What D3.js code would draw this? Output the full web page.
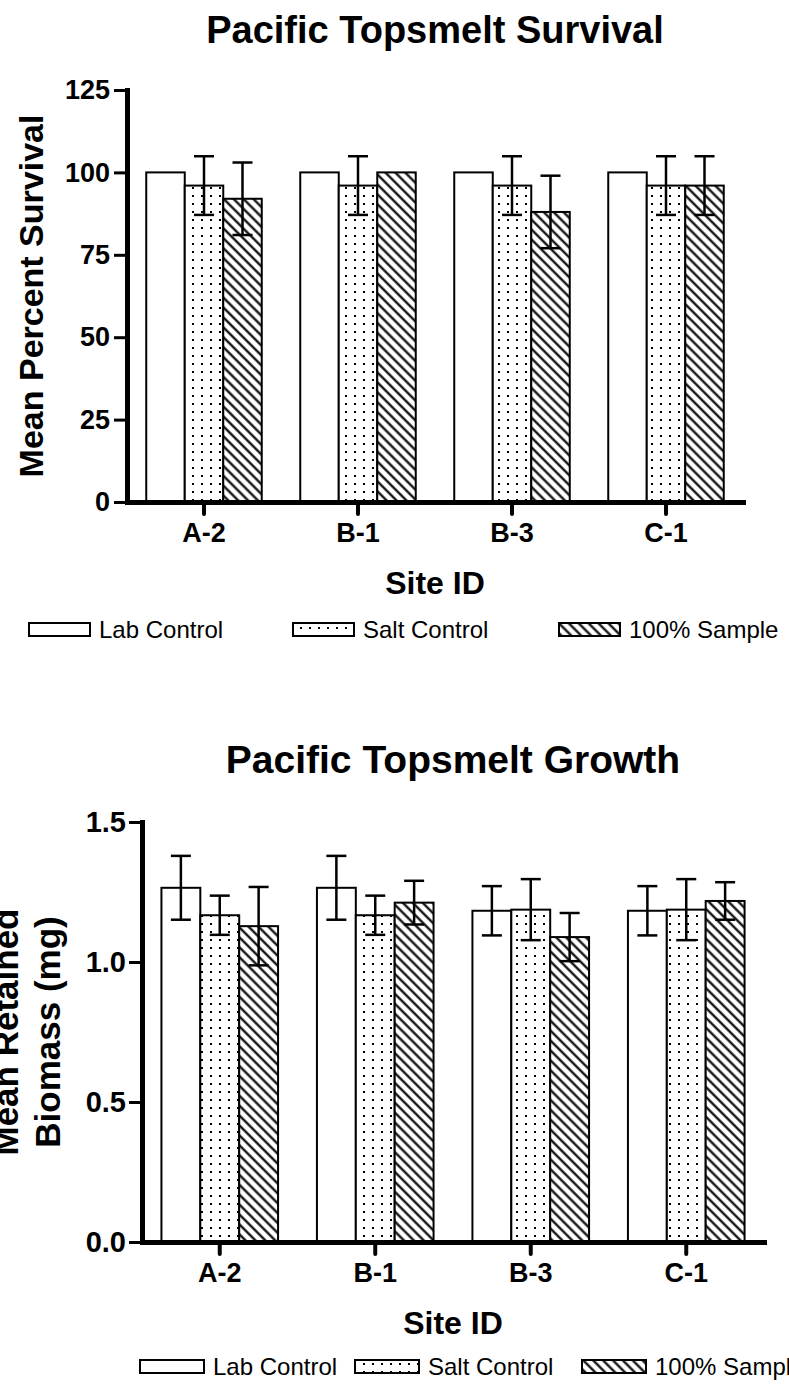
<!DOCTYPE html>
<html>
<head>
<meta charset="utf-8">
<script src="https://cdn.jsdelivr.net/npm/d3@7"></script>
<style>
  body { margin: 0; background: #fff; }
  svg { display: block; font-family: "Liberation Sans", Arial, Helvetica, sans-serif; }
</style>
</head>
<body>
<div id="chart"></div>
<script>
// data
const sites = ["A-2", "B-1", "B-3", "C-1"];
const groups = ["Lab Control", "Salt Control", "100% Sample"];

const survivalLab = [100, 100, 100, 100];
const survivalSalt = [96, 96, 96, 96];
const survivalSample = [92, 100, 88, 96];
const survivalLabErr = [0, 0, 0, 0];
const survivalSaltErr = [8.9, 8.9, 8.9, 8.9];
const survivalSampleErr = [11, 0, 11, 8.9];
const survivalTicks = [0, 25, 50, 75, 100, 125];

const growthLab = [1.265, 1.265, 1.183, 1.183];
const growthSalt = [1.167, 1.167, 1.187, 1.187];
const growthSample = [1.128, 1.212, 1.089, 1.218];
const growthLabErr = [0.114, 0.114, 0.088, 0.088];
const growthSaltErr = [0.07, 0.07, 0.109, 0.109];
const growthSampleErr = [0.14, 0.078, 0.086, 0.067];
const growthTicks = [0, 0.5, 1.0, 1.5];

let svg = d3.select("#chart")
	.append("svg")
	.attr("width", 789)
	.attr("height", 1387);

// fill patterns
let defs = svg.append("defs");
let dots = defs.append("pattern")
	.attr("id", "dots")
	.attr("patternUnits", "userSpaceOnUse")
	.attr("width", 9).attr("height", 8);
dots.append("rect").attr("width", 9).attr("height", 8).attr("fill", "#fff");
dots.append("rect").attr("x", 3).attr("y", 3).attr("width", 2).attr("height", 2).attr("fill", "#000");

let hatch = defs.append("pattern")
	.attr("id", "hatch")
	.attr("patternUnits", "userSpaceOnUse")
	.attr("width", 7).attr("height", 7)
	.attr("patternTransform", "rotate(-45)");
hatch.append("rect").attr("width", 7).attr("height", 7).attr("fill", "#fff");
hatch.append("line").attr("x1", 3.5).attr("y1", 0).attr("x2", 3.5).attr("y2", 7)
	.attr("stroke", "#000").attr("stroke-width", 2.2);

let fills = ["#fff", "url(#dots)", "url(#hatch)"];

function drawChart(cfg) {
	let g = svg.append("g");

	let xScale = d3.scaleBand().domain(sites).range(cfg.xRange);
	let xSub = d3.scaleBand().domain(groups).range([0, xScale.bandwidth()]).paddingOuter(0.5);
	let yScale = d3.scaleLinear().domain(cfg.yDomain).range(cfg.yRange);

	// build rows from the series arrays
	let rows = [];
	sites.forEach(function (s, i) {
		groups.forEach(function (grp, j) {
			rows.push({ site: s, group: grp, idx: j, value: cfg.means[j][i], err: cfg.errs[j][i] });
		});
	});

	g.selectAll(".bar")
		.data(rows)
		.enter().append("rect")
		.attr("class", "bar")
		.attr("x", function (d) { return xScale(d.site) + xSub(d.group); })
		.attr("y", function (d) { return yScale(d.value); })
		.attr("width", xSub.bandwidth())
		.attr("height", function (d) { return yScale(0) - yScale(d.value); })
		.attr("fill", function (d) { return fills[d.idx]; })
		.attr("stroke", "#000")
		.attr("stroke-width", 2);

	// error bars
	let eb = g.selectAll(".err")
		.data(rows.filter(function (d) { return d.err > 0; }))
		.enter().append("g")
		.attr("class", "err")
		.attr("stroke", "#000")
		.attr("stroke-width", 2.5);
	let cx = function (d) { return xScale(d.site) + xSub(d.group) + xSub.bandwidth() / 2; };
	eb.append("line")
		.attr("x1", cx).attr("x2", cx)
		.attr("y1", function (d) { return yScale(d.value + d.err); })
		.attr("y2", function (d) { return yScale(d.value - d.err); });
	eb.append("line")
		.attr("x1", function (d) { return cx(d) - 10; }).attr("x2", function (d) { return cx(d) + 10; })
		.attr("y1", function (d) { return yScale(d.value + d.err); })
		.attr("y2", function (d) { return yScale(d.value + d.err); });
	eb.append("line")
		.attr("x1", function (d) { return cx(d) - 10; }).attr("x2", function (d) { return cx(d) + 10; })
		.attr("y1", function (d) { return yScale(d.value - d.err); })
		.attr("y2", function (d) { return yScale(d.value - d.err); });

	// y axis
	let yAxis = g.append("g")
		.attr("transform", "translate(" + cfg.xRange[0] + ",0)")
		.call(d3.axisLeft(yScale).tickValues(cfg.ticks).tickFormat(cfg.fmt)
			.tickSize(13).tickSizeOuter(0).tickPadding(cfg.yPad));
	yAxis.select(".domain").attr("stroke-width", 5).attr("stroke-linecap", "square");
	yAxis.selectAll(".tick line").attr("stroke-width", 3);
	yAxis.selectAll("text")
		.attr("fill", "#000")
		.style("font-size", cfg.yTickSize + "px")
		.style("font-weight", "bold");

	// x axis
	let xAxis = g.append("g")
		.attr("transform", "translate(0," + yScale(0) + ")")
		.call(d3.axisBottom(xScale).tickSize(12).tickSizeOuter(0));
	xAxis.select(".domain").attr("stroke-width", 5).attr("stroke-linecap", "square");
	xAxis.selectAll(".tick line").attr("stroke-width", 4).attr("stroke-linecap", "round");
	xAxis.selectAll("text")
		.attr("y", 40).attr("dy", 0)
		.attr("fill", "#000")
		.style("font-size", "27px")
		.style("font-weight", "bold");

	let midX = (cfg.xRange[0] + cfg.xRange[1]) / 2;

	g.append("text")
		.attr("x", midX)
		.attr("y", cfg.titleY)
		.attr("text-anchor", "middle")
		.style("font-size", cfg.titleSize + "px")
		.style("font-weight", "bold")
		.text(cfg.title);

	g.append("text")
		.attr("x", midX)
		.attr("y", yScale(0) + 92)
		.attr("text-anchor", "middle")
		.style("font-size", "32px")
		.style("font-weight", "bold")
		.text("Site ID");

	let midY = (cfg.yRange[0] + cfg.yRange[1]) / 2;
	cfg.yLabel.forEach(function (line, k) {
		g.append("text")
			.attr("transform", "translate(" + cfg.yLabelX[k] + "," + midY + ") rotate(-90)")
			.attr("text-anchor", "middle")
			.style("font-size", cfg.yLabelSize + "px")
			.style("font-weight", "bold")
			.text(line);
	});

	// legend
	let lg = g.append("g");
	groups.forEach(function (grp, j) {
		lg.append("rect")
			.attr("x", cfg.legendX[j])
			.attr("y", cfg.legendY)
			.attr("width", cfg.legendW)
			.attr("height", 13)
			.attr("fill", fills[j])
			.attr("stroke", "#000")
			.attr("stroke-width", 2);
		lg.append("text")
			.attr("x", cfg.legendX[j] + cfg.legendW + 9)
			.attr("y", cfg.legendY + 15)
			.style("font-size", "24px")
			.text(grp);
	});
}

drawChart({
	title: "Pacific Topsmelt Survival",
	titleY: 43,
	titleSize: 38,
	xRange: [127, 743],
	yDomain: [0, 125],
	yRange: [502, 90],
	ticks: survivalTicks,
	fmt: d3.format("d"),
	yPad: 4,
	yTickSize: 27,
	means: [survivalLab, survivalSalt, survivalSample],
	errs: [survivalLabErr, survivalSaltErr, survivalSampleErr],
	yLabel: ["Mean Percent Survival"],
	yLabelX: [43],
	yLabelSize: 34,
	legendX: [29, 293, 559],
	legendW: 61,
	legendY: 623
});

drawChart({
	title: "Pacific Topsmelt Growth",
	titleY: 773,
	titleSize: 39,
	xRange: [142, 764],
	yDomain: [0, 1.5],
	yRange: [1242, 822],
	ticks: growthTicks,
	fmt: d3.format(".1f"),
	yPad: 3,
	yTickSize: 29,
	means: [growthLab, growthSalt, growthSample],
	errs: [growthLabErr, growthSaltErr, growthSampleErr],
	yLabel: ["Mean Retained", "Biomass (mg)"],
	yLabelX: [18, 60],
	yLabelSize: 35,
	legendX: [140, 355, 582],
	legendW: 64,
	legendY: 1360
});
</script>
</body>
</html>
